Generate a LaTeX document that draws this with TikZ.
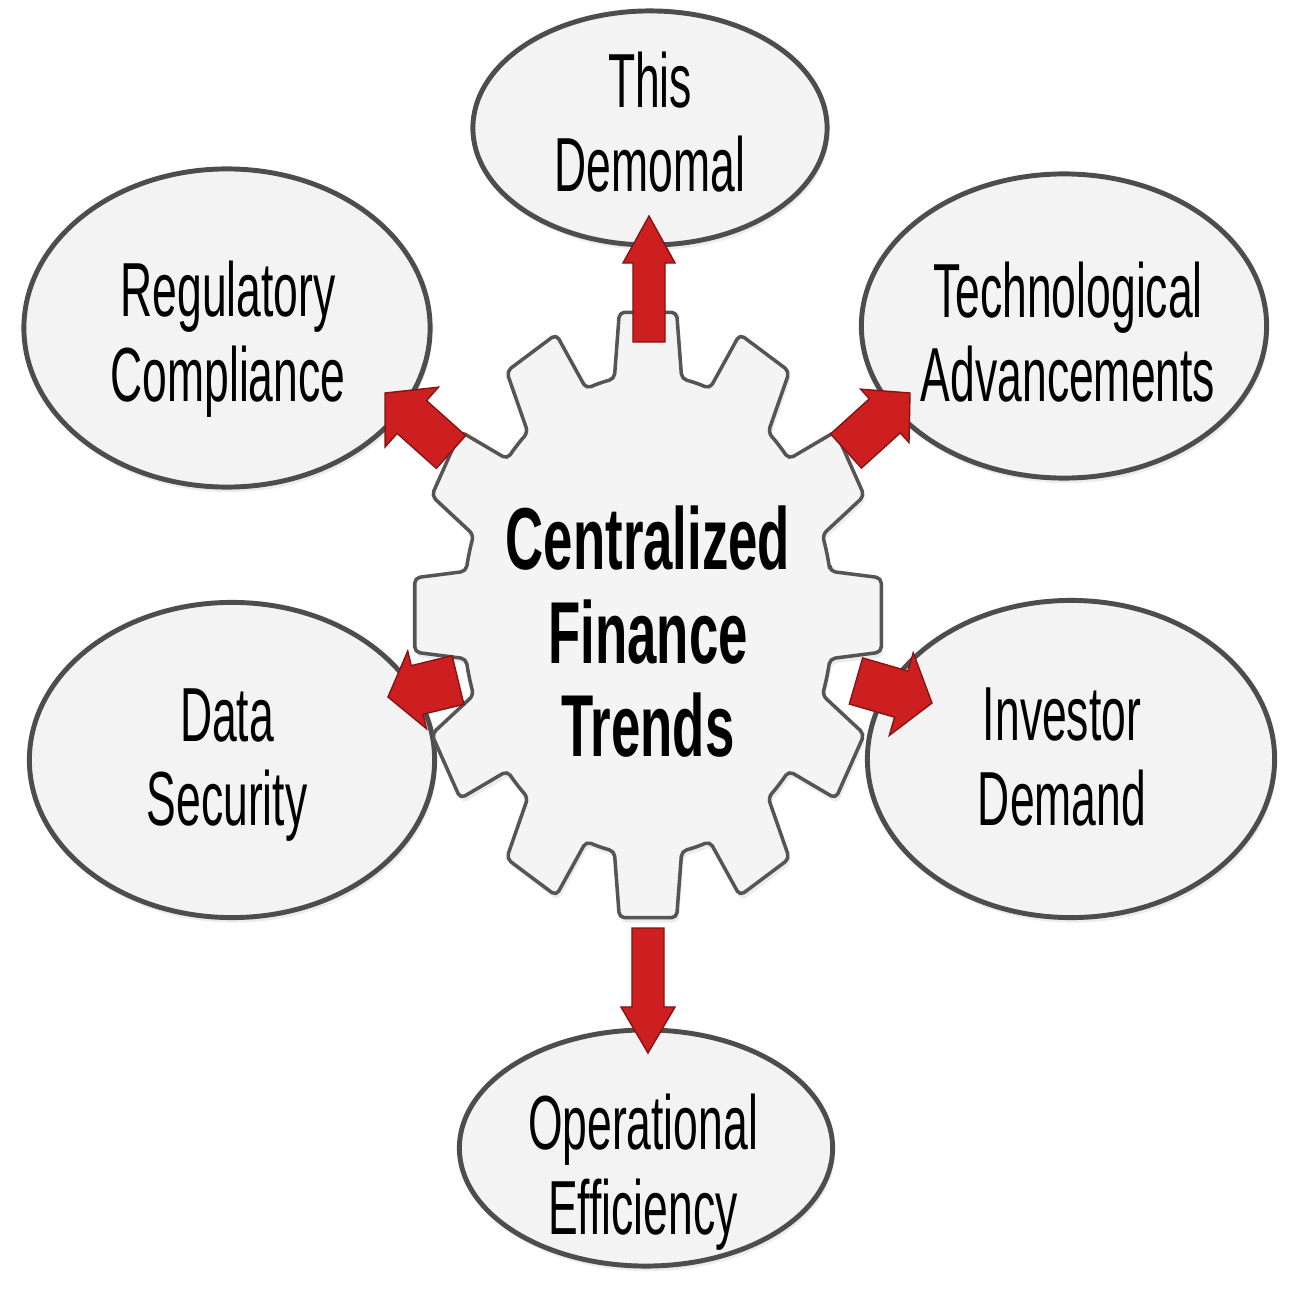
\documentclass[tikz,border=0pt]{standalone}
\usepackage{fontspec}
\newfontfamily\narrowfont{Liberation Sans}[FakeStretch=0.58]
\newfontfamily\hubfont{Liberation Sans}[FakeStretch=0.6]
\usetikzlibrary{calc,shapes.geometric,shadows}
\definecolor{bubblefill}{HTML}{F3F3F3}
\definecolor{bubbleline}{HTML}{4D4D4D}
\definecolor{arrowred}{HTML}{CD1F1F}
\definecolor{arrowedge}{HTML}{861414}
\definecolor{gearfill}{HTML}{F4F4F4}
\definecolor{gearline}{HTML}{555555}
\tikzset{
  bubble/.style={ellipse, draw=bubbleline, fill=bubblefill, line width=1.4pt, inner sep=0pt,
    drop shadow={opacity=0.15, shadow xshift=0.02cm, shadow yshift=-0.05cm}},
  bubbletext/.style={font=\narrowfont\fontsize{21.8pt}{24pt}\selectfont, align=center, text=black},
  hubtext/.style={font=\hubfont\bfseries\fontsize{25pt}{26.6pt}\selectfont, align=center, text=black},
  gearshape/.style={draw=gearline, fill=gearfill, line width=1pt, line join=round, rounded corners=1.5pt,
    drop shadow={opacity=0.15, shadow xshift=0.02cm, shadow yshift=-0.05cm}},
  redarrow/.style={fill=arrowred, draw=arrowedge, line width=0.4pt, line join=miter},
}
\newcommand{\blockarr}[5]{%
  \coordinate (#2h) at ($(#2)!#5!(#1)$);
  \draw[redarrow] ($(#1)!#3!90:(#2)$) -- ($(#2h)!#3!90:(#2)$) -- ($(#2h)!#4!90:(#2)$) -- (#2)
    -- ($(#2h)!#4!-90:(#2)$) -- ($(#2h)!#3!-90:(#2)$) -- ($(#1)!#3!-90:(#2)$) -- cycle;}
\begin{document}
\begin{tikzpicture}[x=0.01cm, y=-0.01cm]
\fill[white] (0,0) rectangle (1300,1300);
\useasboundingbox (0,0) rectangle (1300,1300);

% outer ellipses
\node[bubble, minimum width=3.54cm, minimum height=2.34cm] (demo) at (650,128) {};
\node[bubble, minimum width=4.06cm, minimum height=3.18cm] (reg) at (227,328) {};
\node[bubble, minimum width=4.05cm, minimum height=3.04cm] (tech) at (1064,326) {};
\node[bubble, minimum width=4.05cm, minimum height=3.15cm] (data) at (232,760) {};
\node[bubble, minimum width=4.07cm, minimum height=3.17cm] (inv) at (1071,759) {};
\node[bubble, minimum width=3.73cm, minimum height=2.36cm] (oper) at (646,1148) {};

% gear
\begin{scope}[shift={(648,615)}]
\draw[gearshape] (-10.5:185 and 240)
  \foreach \a in {0,30,...,330}{
    -- ({\a-7}:235 and 305) -- ({\a+7}:235 and 305) -- ({\a+10.5}:185 and 240)
    arc[start angle={\a+10.5}, end angle={\a+19.5}, x radius=185, y radius=240]
  } -- cycle;
\end{scope}
\node[hubtext] (hub) at (648,632) {Centralized\\Finance\\Trends};

% arrows
\coordinate (demobase) at (649,342); \coordinate (demotip) at (649,216);
\coordinate (regbase) at (451,452);  \coordinate (regtip) at (385,393);
\coordinate (techbase) at (846,451); \coordinate (techtip) at (910,393);
\coordinate (database) at (458,680); \coordinate (datatip) at (388,697);
\coordinate (invbase) at (856,681);  \coordinate (invtip) at (932,703);
\coordinate (operbase) at (648,928); \coordinate (opertip) at (648,1053);
\blockarr{demobase}{demotip}{0.16cm}{0.26cm}{0.47cm}
\blockarr{regbase}{regtip}{0.22cm}{0.40cm}{0.36cm}
\blockarr{techbase}{techtip}{0.23cm}{0.36cm}{0.34cm}
\blockarr{database}{datatip}{0.25cm}{0.40cm}{0.30cm}
\blockarr{invbase}{invtip}{0.24cm}{0.43cm}{0.32cm}
\blockarr{operbase}{opertip}{0.16cm}{0.27cm}{0.46cm}

% texts
\node[bubbletext] (demotext) at (650,122) {This\\Demomal};
\node[bubbletext] (regtext) at (228,339) {Regulatory\\Compliance};
\node[bubbletext] (techtext) at (1068,332) {Technological\\Advancements};
\node[bubbletext] (datatext) at (227,765) {Data\\Security};
\node[bubbletext] (invtext) at (1062,757) {Investor\\Demand};
\node[bubbletext] (opertext) at (643,1172) {Operational\\Efficiency};
\end{tikzpicture}
\end{document}
